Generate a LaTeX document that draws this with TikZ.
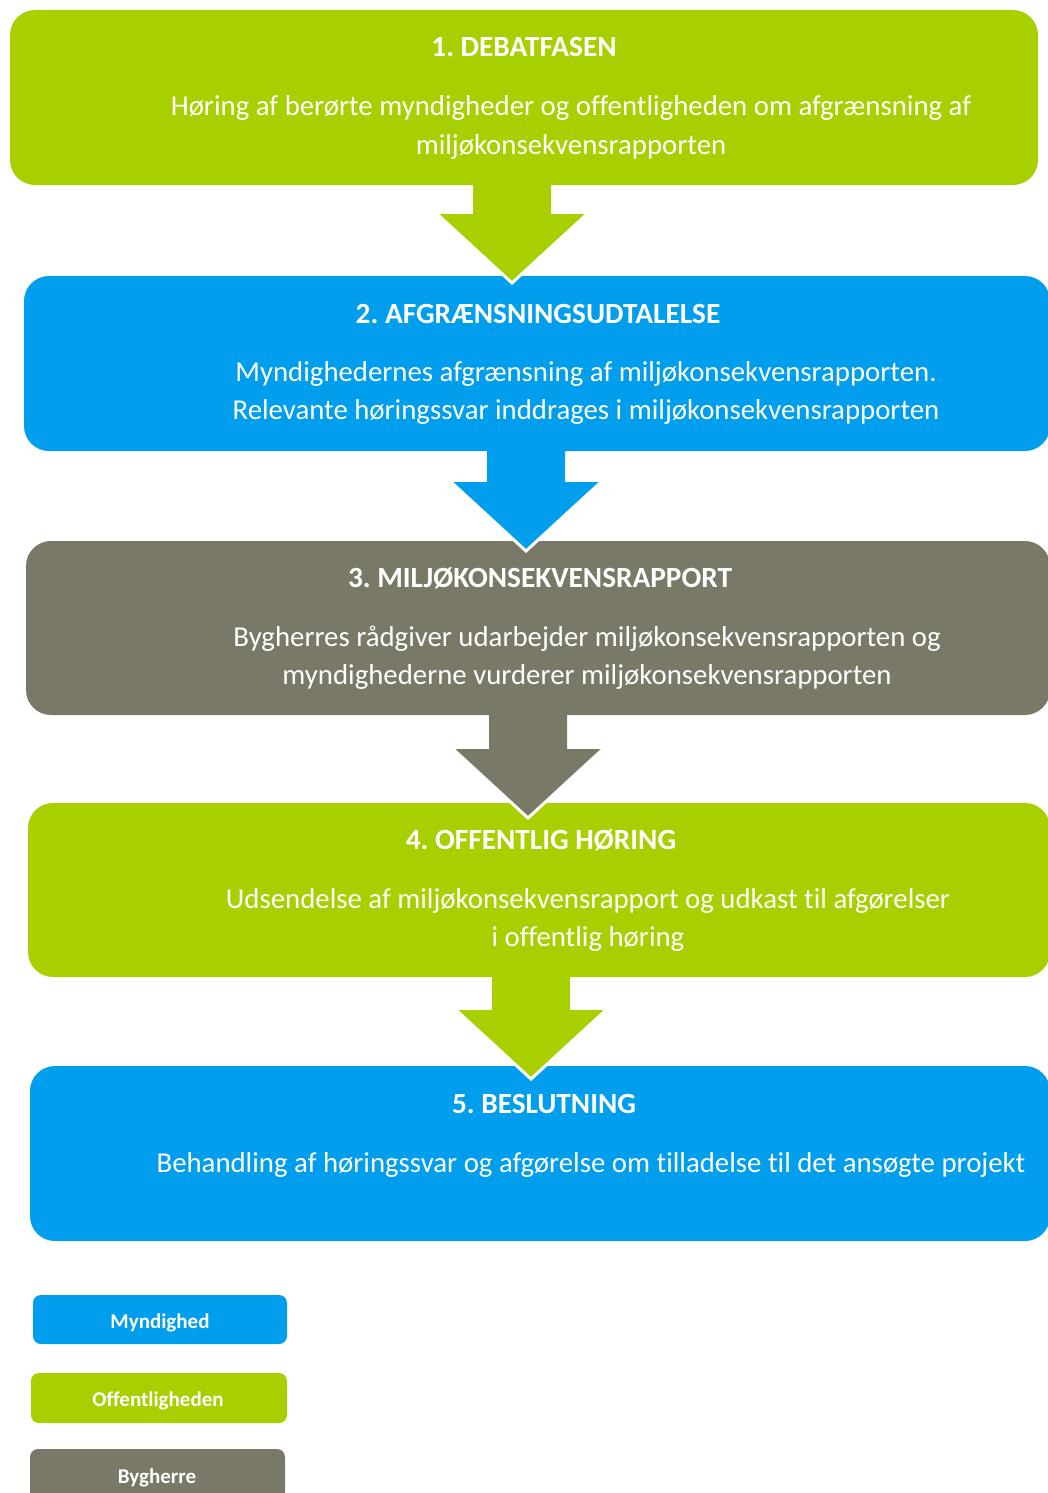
\documentclass[tikz,border=0pt]{standalone}
\usepackage{fontspec}
\setmainfont[Ligatures=NoCommon]{Carlito}
\usetikzlibrary{calc}
\definecolor{cgreen}{RGB}{168,208,0}
\definecolor{cblue}{RGB}{0,158,236}
\definecolor{cgrey}{RGB}{122,121,104}
\newcommand\stagearrow[3]{%
  \fill[#1] ($(#2.south -| #3)+(-39,-3)$) -- ($(#2.south -| #3)+(39,-3)$)
    -- ($(#3)+(39,-69)$) -- ($(#3)+(75,-69)$) -- (#3)
    -- ($(#3)+(-75,-69)$) -- ($(#3)+(-39,-69)$) -- cycle;
  \draw[white, line width=3pt, line join=miter] ($(#3)+(-75,-69)$) -- (#3) -- ($(#3)+(75,-69)$);
}
\frenchspacing
\begin{document}
\begin{tikzpicture}[x=1pt,y=-1pt,
  stage/.style={fill=#1, draw=none, rounded corners=25pt, inner sep=0pt},
  ttl/.style={text=white, font=\fontsize{29.3}{33}\selectfont\bfseries, inner sep=0pt, anchor=base},
  body/.style={text=white, font=\fontsize{28.8}{38}\selectfont, inner sep=0pt, anchor=base},
  leg/.style={fill=#1, rounded corners=8pt, draw=none, inner sep=0pt},
  legtxt/.style={text=white, font=\fontsize{21}{24}\selectfont\bfseries, inner sep=0pt, anchor=base},
]
\useasboundingbox (0,0) rectangle (1048,1493);
\clip (0,0) rectangle (1048,1493);

% stage boxes
\node[stage=cgreen, minimum width=1028pt, minimum height=175pt] (b1) at (524,97.5) {};
\node[stage=cblue,  minimum width=1026pt, minimum height=175pt] (b2) at (537,363.5) {};
\node[stage=cgrey,  minimum width=1024pt, minimum height=174pt] (b3) at (538,628) {};
\node[stage=cgreen, minimum width=1022pt, minimum height=174pt] (b4) at (539,890) {};
\node[stage=cblue,  minimum width=1020pt, minimum height=175pt] (b5) at (540,1153.5) {};

% arrows
\coordinate (t1) at (512,283);
\coordinate (t2) at (526,551);
\coordinate (t3) at (528,818);
\coordinate (t4) at (531,1079);
\stagearrow{cgreen}{b1}{t1}
\stagearrow{cblue}{b2}{t2}
\stagearrow{cgrey}{b3}{t3}
\stagearrow{cgreen}{b4}{t4}

% texts
\node[ttl] (h1) at (524,57) {1. DEBATFASEN};
\node[body] (s1a) at (571,116) {Høring af berørte myndigheder og offentligheden om afgrænsning af};
\node[body] (s1b) at (571,154) {miljøkonsekvensrapporten};

\node[ttl] (h2) at (538,323) {2. AFGRÆNSNINGSUDTALELSE};
\node[body] (s2a) at (586,381) {Myndighedernes afgrænsning af miljøkonsekvensrapporten.};
\node[body] (s2b) at (586,419) {Relevante høringssvar inddrages i miljøkonsekvensrapporten};

\node[ttl] (h3) at (540,587) {3. MILJØKONSEKVENSRAPPORT};
\node[body] (s3a) at (587,646) {Bygherres rådgiver udarbejder miljøkonsekvensrapporten og};
\node[body] (s3b) at (587,684) {myndighederne vurderer miljøkonsekvensrapporten};

\node[ttl] (h4) at (541,849) {4. OFFENTLIG HØRING};
\node[body] (s4a) at (588,908) {Udsendelse af miljøkonsekvensrapport og udkast til afgørelser};
\node[body] (s4b) at (588,946) {i offentlig høring};

\node[ttl] (h5) at (544,1113) {5. BESLUTNING};
\node[body] (s5a) at (591,1172) {Behandling af høringssvar og afgørelse om tilladelse til det ansøgte projekt};

% legend
\node[leg=cblue,  minimum width=254pt, minimum height=49pt] (l1) at (160,1319.5) {};
\node[leg=cgreen, minimum width=256pt, minimum height=50pt] (l2) at (159,1398) {};
\node[leg=cgrey,  minimum width=255pt, minimum height=51pt] (l3) at (157.5,1474.5) {};
\node[legtxt] (lt1) at (160,1328) {Myndighed};
\node[legtxt] (lt2) at (158,1406) {Offentligheden};
\node[legtxt] (lt3) at (157,1483) {Bygherre};
\end{tikzpicture}
\end{document}
